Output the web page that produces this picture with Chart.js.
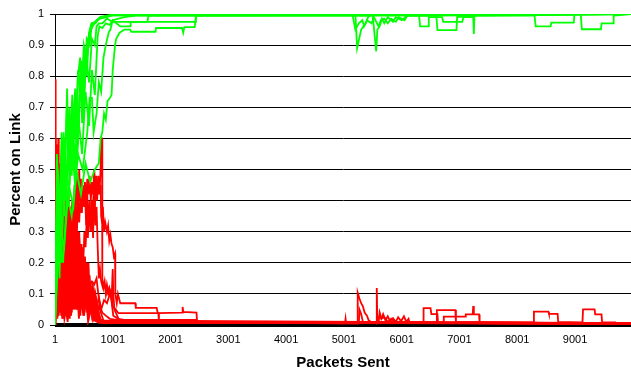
<!DOCTYPE html>
<html>
<head>
<meta charset="utf-8">
<script src="https://cdn.jsdelivr.net/npm/chart.js@4/dist/chart.umd.min.js"></script>
<style>
  html, body { margin: 0; padding: 0; background: #fff; }
  #wrap { width: 631px; height: 370px; }
</style>
</head>
<body>
<div id="wrap"><canvas id="linkChart"></canvas></div>
<script>
/* ── tick labels ── */
const xTicks = [1, 1001, 2001, 3001, 4001, 5001, 6001, 7001, 8001, 9001];
const yTicks = [0, 0.1, 0.2, 0.3, 0.4, 0.5, 0.6, 0.7, 0.8, 0.9, 1];

/* ── runs that end up on the link ([packets sent, percent]) ── */
const green1 = [[1,0],[40,0.35],[80,0.15],[120,0.55],[160,0.35],[210,0.76],[250,0.45],[300,0.7],[350,0.5],[400,0.8],[435,0.86],[470,0.65],[510,0.88],[550,0.8],[590,0.94],[630,0.97],[700,0.975],[780,0.985],[900,0.99],[1000,0.998],[9970,1]];
const green2 = [[1,0.05],[50,0.45],[100,0.3],[150,0.6],[200,0.42],[250,0.68],[300,0.5],[350,0.75],[400,0.58],[450,0.84],[500,0.72],[550,0.92],[600,0.9],[640,0.97],[700,0.97],[760,0.985],[860,0.99],[1000,0.995],[5200,1],[5230,0.89],[5300,0.95],[5380,0.97],[5420,0.99],[5480,1],[9970,1]];
const green3 = [[1,0],[60,0.35],[110,0.2],[170,0.5],[230,0.38],[290,0.58],[350,0.45],[410,0.66],[470,0.55],[530,0.75],[590,0.64],[640,0.82],[690,0.74],[740,0.93],[770,0.96],[820,0.955],[880,0.97],[950,0.965],[1000,0.98],[1130,0.96],[1300,0.96],[1310,0.975],[2430,0.975],[2440,1],[9970,1]];
const green4 = [[1,0.02],[70,0.3],[140,0.2],[210,0.42],[290,0.35],[370,0.5],[450,0.42],[530,0.52],[610,0.46],[690,0.5],[760,0.52],[790,0.6],[820,0.62],[850,0.68],[880,0.66],[910,0.72],[950,0.73],[980,0.74],[1000,0.82],[1020,0.86],[1040,0.9],[1060,0.92],[1090,0.93],[1120,0.94],[1200,0.95],[1300,0.95],[1320,0.943],[1740,0.943],[1750,0.955],[2200,0.955],[2220,0.94],[2240,0.958],[2420,0.958],[2440,0.995],[9970,1]];
const green5 = [[1,0],[45,0.45],[90,0.25],[140,0.58],[190,0.4],[240,0.62],[290,0.48],[340,0.7],[390,0.55],[440,0.78],[490,0.66],[540,0.86],[590,0.78],[640,0.92],[690,0.9],[720,0.96],[760,0.97],[820,0.97],[900,0.985],[1000,0.975],[1600,0.975],[1620,0.995],[5500,0.995],[5560,0.88],[5580,0.95],[5620,0.96],[5660,0.985],[5700,0.97],[5760,0.99],[5850,0.975],[5900,0.99],[6000,0.98],[6100,0.995],[9970,1]];
const green6 = [[1,0.1],[50,0.5],[100,0.32],[150,0.62],[200,0.45],[250,0.7],[300,0.55],[350,0.76],[400,0.62],[450,0.85],[500,0.78],[550,0.9],[600,0.94],[650,0.96],[700,0.975],[780,0.99],[900,0.995],[1100,1],[6300,1],[6320,0.96],[6460,0.96],[6470,0.99],[6700,0.99],[6720,0.975],[7050,0.975],[7070,0.99],[7240,0.99],[7250,0.936],[7260,0.995],[9970,1]];
const green7 = [[1,0],[80,0.32],[160,0.25],[240,0.45],[320,0.38],[400,0.55],[480,0.5],[560,0.62],[600,0.73],[640,0.73],[670,0.62],[720,0.68],[760,0.78],[800,0.75],[840,0.86],[880,0.9],[930,0.94],[960,0.95],[1000,0.98],[1200,0.99],[1400,0.995],[6600,0.995],[6620,0.948],[6950,0.948],[6960,0.99],[7300,0.995],[8300,0.995],[8320,0.96],[8580,0.96],[8590,0.972],[8980,0.972],[8990,1],[9100,1],[9120,0.951],[9450,0.951],[9460,0.97],[9660,0.97],[9670,0.995],[9970,1]];
const green8 = [[1,0.05],[35,0.55],[75,0.35],[115,0.62],[160,0.45],[205,0.7],[250,0.55],[300,0.74],[350,0.6],[400,0.82],[450,0.72],[500,0.9],[550,0.85],[600,0.94],[660,0.965],[720,0.98],[800,0.99],[1000,0.997],[5150,0.997],[5200,0.95],[5260,0.97],[5320,0.98],[5350,0.96],[5400,0.98],[5480,0.97],[5520,0.99],[5600,0.96],[5640,0.98],[5700,0.985],[5760,0.97],[5820,0.985],[5900,0.975],[5950,0.99],[6050,0.98],[6100,0.995],[9970,1]];

/* ── runs that drop off the link ── */
const red1 = [[1,0.79],[6,0.3],[12,0.62],[18,0.2],[24,0.55],[30,0.15],[36,0.48],[42,0.22],[50,0.58],[58,0.12],[66,0.4],[74,0.18],[82,0.52],[90,0.1],[100,0.35],[110,0.14],[120,0.42],[130,0.08],[140,0.3],[152,0.12],[164,0.36],[176,0.06],[188,0.25],[200,0.1],[215,0.28],[230,0.05],[245,0.2],[260,0.08],[280,0.24],[300,0.06],[320,0.22],[340,0.08],[365,0.2],[390,0.05],[420,0.18],[450,0.06],[480,0.14],[510,0.04],[550,0.12],[590,0.03],[630,0.08],[680,0.02],[750,0.01],[9970,0.005]];
const red2 = [[1,0.05],[5,0.5],[10,0.2],[15,0.6],[22,0.28],[29,0.52],[36,0.1],[43,0.44],[50,0.25],[58,0.6],[66,0.3],[74,0.46],[82,0.15],[90,0.38],[100,0.22],[110,0.5],[120,0.18],[130,0.4],[142,0.26],[154,0.45],[166,0.12],[178,0.32],[190,0.2],[205,0.38],[220,0.14],[235,0.3],[250,0.08],[270,0.22],[290,0.1],[310,0.3],[330,0.06],[355,0.26],[380,0.1],[410,0.3],[440,0.08],[470,0.24],[500,0.06],[530,0.2],[560,0.05],[600,0.16],[640,0.04],[680,0.1],[720,0.02],[800,0.01],[9970,0.004]];
const red3 = [[1,0.1],[7,0.35],[14,0.12],[21,0.58],[28,0.2],[35,0.45],[42,0.3],[50,0.55],[60,0.22],[70,0.5],[80,0.18],[90,0.42],[100,0.28],[112,0.48],[124,0.16],[136,0.36],[148,0.24],[160,0.44],[172,0.1],[185,0.3],[198,0.18],[212,0.35],[226,0.12],[240,0.28],[256,0.08],[272,0.22],[290,0.14],[310,0.3],[330,0.1],[350,0.32],[375,0.12],[400,0.3],[430,0.1],[460,0.26],[490,0.08],[520,0.22],[550,0.06],[580,0.2],[610,0.05],[650,0.14],[700,0.03],[760,0.06],[850,0.008],[9970,0.006]];
const red4 = [[1,0],[10,0.3],[20,0.1],[30,0.4],[40,0.15],[52,0.35],[64,0.2],[76,0.45],[88,0.25],[100,0.4],[115,0.18],[130,0.36],[145,0.22],[160,0.4],[175,0.26],[190,0.34],[205,0.2],[220,0.3],[240,0.22],[260,0.38],[280,0.28],[300,0.4],[320,0.3],[340,0.45],[360,0.35],[380,0.48],[400,0.38],[420,0.5],[435,0.4],[450,0.47],[465,0.36],[480,0.45],[500,0.38],[520,0.44],[540,0.32],[560,0.42],[580,0.3],[600,0.4],[620,0.3],[640,0.36],[660,0.28],[680,0.45],[700,0.32],[720,0.38],[740,0.25],[760,0.15],[780,0.18],[800,0.14],[830,0.12],[860,0.13],[900,0.1],[940,0.12],[980,0.08],[1000,0.18],[1010,0.1],[1030,0.05],[1100,0.02],[1400,0.01],[9970,0.005]];
const red5 = [[1,0.2],[10,0.45],[20,0.15],[30,0.38],[40,0.1],[52,0.3],[64,0.12],[76,0.26],[88,0.08],[100,0.22],[115,0.1],[130,0.28],[145,0.12],[160,0.24],[175,0.08],[190,0.2],[210,0.12],[230,0.26],[250,0.15],[270,0.3],[290,0.18],[310,0.25],[330,0.14],[350,0.22],[370,0.12],[390,0.2],[410,0.1],[430,0.18],[450,0.14],[470,0.24],[490,0.2],[510,0.3],[530,0.25],[550,0.34],[570,0.28],[590,0.38],[610,0.32],[630,0.4],[650,0.35],[670,0.43],[690,0.38],[710,0.46],[730,0.4],[750,0.48],[770,0.42],[790,0.5],[800,0.6],[815,0.6],[820,0.15],[840,0.12],[860,0.14],[880,0.1],[900,0.13],[930,0.1],[960,0.11],[990,0.06],[1010,0.03],[1200,0.008],[9970,0.005]];
const red6 = [[1,0.3],[8,0.55],[16,0.25],[24,0.5],[32,0.2],[42,0.45],[52,0.18],[62,0.4],[72,0.22],[84,0.38],[96,0.2],[110,0.32],[124,0.16],[138,0.3],[152,0.2],[168,0.34],[184,0.22],[200,0.3],[220,0.2],[240,0.28],[260,0.22],[280,0.3],[300,0.25],[320,0.34],[340,0.28],[360,0.38],[380,0.3],[400,0.4],[420,0.33],[440,0.42],[460,0.36],[480,0.45],[500,0.38],[520,0.46],[540,0.4],[560,0.47],[580,0.42],[600,0.48],[620,0.4],[640,0.46],[660,0.42],[680,0.5],[700,0.44],[720,0.48],[740,0.42],[760,0.46],[780,0.44],[790,0.45],[800,0.35],[815,0.33],[830,0.38],[850,0.3],[870,0.33],[900,0.3],[920,0.32],[940,0.27],[960,0.29],[980,0.26],[1000,0.25],[1020,0.22],[1040,0.23],[1045,0.1],[1070,0.07],[1090,0.1],[1130,0.07],[1390,0.07],[1400,0.055],[1760,0.055],[1780,0.038],[2200,0.04],[2210,0.058],[2220,0.042],[2450,0.04],[2460,0.008],[9970,0.005]];
const red7 = [[1,0.15],[9,0.4],[18,0.12],[27,0.35],[36,0.2],[46,0.5],[56,0.15],[66,0.32],[78,0.1],[90,0.28],[102,0.16],[114,0.34],[126,0.12],[140,0.26],[154,0.08],[168,0.22],[182,0.14],[196,0.3],[212,0.1],[228,0.2],[244,0.08],[262,0.18],[280,0.12],[300,0.22],[320,0.08],[345,0.16],[370,0.1],[395,0.18],[420,0.06],[450,0.14],[480,0.05],[520,0.12],[560,0.06],[600,0.1],[640,0.04],[680,0.08],[720,0.05],[760,0.09],[800,0.05],[850,0.08],[900,0.07],[950,0.1],[980,0.1],[1000,0.06],[1050,0.05],[1100,0.038],[1790,0.038],[1800,0.008],[9970,0.005]];
const red8 = [[1,0.25],[8,0.1],[16,0.42],[24,0.15],[34,0.36],[44,0.08],[54,0.3],[66,0.12],[78,0.26],[90,0.06],[104,0.22],[118,0.1],[132,0.28],[146,0.08],[160,0.2],[176,0.05],[192,0.16],[210,0.08],[228,0.22],[246,0.1],[266,0.18],[286,0.06],[306,0.15],[330,0.08],[355,0.14],[380,0.1],[405,0.16],[430,0.12],[460,0.2],[490,0.14],[520,0.13],[560,0.15],[600,0.13],[640,0.14],[680,0.13],[720,0.15],[750,0.1],[780,0.06],[820,0.04],[880,0.03],[950,0.02],[1100,0.016],[2450,0.016],[2460,0.01],[3470,0.01],[3480,0.006],[9970,0.005]];
const red9 = [[1,0.02],[8,0.25],[16,0.06],[24,0.32],[32,0.1],[42,0.2],[52,0.04],[62,0.28],[72,0.08],[84,0.18],[96,0.05],[110,0.22],[124,0.06],[138,0.15],[152,0.03],[168,0.12],[184,0.05],[200,0.16],[220,0.04],[240,0.1],[265,0.03],[290,0.18],[320,0.05],[350,0.2],[380,0.06],[410,0.16],[440,0.03],[470,0.14],[500,0.04],[540,0.12],[580,0.03],[620,0.1],[660,0.02],[720,0.05],[800,0.01],[5020,0.005],[5030,0.02],[5040,0.005],[5230,0.005],[5240,0.104],[5270,0.085],[5300,0.07],[5330,0.06],[5360,0.04],[5400,0.03],[5430,0.015],[5480,0.008],[9970,0.004]];
const red10 = [[1,0],[6,0.22],[12,0.05],[18,0.35],[26,0.08],[34,0.28],[42,0.12],[52,0.38],[62,0.06],[72,0.24],[84,0.1],[96,0.3],[108,0.05],[122,0.18],[136,0.08],[150,0.24],[166,0.04],[182,0.14],[198,0.06],[216,0.12],[236,0.03],[256,0.09],[280,0.2],[310,0.06],[340,0.22],[370,0.05],[400,0.18],[430,0.04],[460,0.2],[490,0.06],[520,0.16],[560,0.04],[600,0.12],[640,0.03],[700,0.08],[760,0.01],[5260,0.005],[5270,0.05],[5300,0.035],[5330,0.01],[5560,0.008],[5570,0.119],[5580,0.01],[5620,0.03],[5650,0.02],[5680,0.035],[5720,0.015],[5760,0.028],[5800,0.012],[5850,0.022],[5900,0.01],[5940,0.025],[5990,0.012],[6040,0.028],[6080,0.01],[6120,0.02],[6140,0.006],[9970,0.004]];
const red11 = [[1,0.08],[7,0.3],[14,0.1],[22,0.46],[30,0.14],[38,0.34],[48,0.06],[58,0.26],[68,0.1],[80,0.32],[92,0.12],[104,0.24],[116,0.06],[130,0.2],[144,0.1],[158,0.26],[172,0.05],[188,0.16],[204,0.08],[222,0.2],[240,0.05],[260,0.14],[282,0.04],[306,0.25],[332,0.08],[362,0.22],[392,0.06],[420,0.28],[450,0.1],[480,0.22],[510,0.06],[540,0.18],[575,0.05],[610,0.14],[650,0.04],[700,0.1],[760,0.02],[850,0.01],[5600,0.006],[5620,0.04],[5650,0.02],[5700,0.025],[5760,0.01],[5820,0.02],[5900,0.008],[6375,0.008],[6380,0.054],[6500,0.054],[6515,0.035],[6620,0.035],[6630,0.008],[9970,0.005]];
const red12 = [[1,0.04],[9,0.2],[18,0.06],[28,0.3],[38,0.1],[50,0.24],[62,0.05],[74,0.18],[86,0.08],[100,0.26],[114,0.06],[128,0.16],[142,0.04],[158,0.12],[174,0.05],[192,0.14],[210,0.03],[232,0.08],[256,0.02],[284,0.16],[310,0.05],[340,0.2],[370,0.08],[400,0.24],[430,0.06],[460,0.18],[495,0.05],[530,0.15],[570,0.03],[610,0.12],[660,0.02],[720,0.06],[800,0.01],[6600,0.008],[6610,0.048],[6930,0.048],[6940,0.01],[9970,0.005]];
const red13 = [[1,0.12],[6,0.02],[13,0.2],[20,0.05],[28,0.16],[36,0.03],[46,0.14],[56,0.05],[68,0.22],[80,0.04],[94,0.12],[108,0.03],[124,0.1],[140,0.02],[160,0.08],[180,0.03],[205,0.07],[230,0.02],[260,0.15],[290,0.04],[320,0.18],[350,0.06],[385,0.14],[420,0.03],[455,0.12],[490,0.04],[530,0.16],[570,0.05],[610,0.12],[650,0.03],[700,0.07],[760,0.01],[6720,0.008],[6730,0.027],[7100,0.027],[7110,0.034],[7230,0.034],[7240,0.061],[7250,0.034],[7340,0.034],[7350,0.006],[9970,0.004]];
const red14 = [[1,0.06],[10,0.16],[20,0.04],[30,0.12],[42,0.02],[54,0.1],[66,0.03],[80,0.14],[94,0.04],[110,0.09],[126,0.02],[144,0.07],[164,0.02],[190,0.05],[220,0.01],[250,0.12],[280,0.03],[310,0.15],[345,0.05],[380,0.12],[415,0.02],[450,0.1],[490,0.03],[530,0.12],[570,0.02],[620,0.09],[670,0.02],[730,0.05],[800,0.008],[8280,0.008],[8290,0.043],[8540,0.043],[8550,0.036],[8700,0.036],[8710,0.01],[9130,0.008],[9140,0.05],[9340,0.05],[9350,0.034],[9460,0.034],[9470,0.008],[9700,0.008],[9710,0.004],[9970,0.004]];
const red15 = [[1,0.4],[5,0.15],[11,0.5],[17,0.22],[23,0.42],[31,0.1],[39,0.36],[47,0.16],[56,0.3],[65,0.08],[75,0.28],[85,0.12],[96,0.32],[108,0.1],[120,0.26],[133,0.06],[146,0.2],[160,0.09],[175,0.24],[190,0.06],[206,0.16],[222,0.04],[240,0.12],[260,0.03],[285,0.2],[310,0.06],[340,0.25],[370,0.08],[400,0.2],[435,0.05],[470,0.18],[505,0.04],[540,0.14],[580,0.03],[620,0.1],[670,0.02],[740,0.01],[9970,0.005]];
const red16 = [[1,0.22],[4,0.6],[9,0.3],[14,0.52],[20,0.12],[26,0.4],[33,0.18],[40,0.34],[48,0.06],[57,0.3],[66,0.14],[76,0.38],[86,0.1],[97,0.26],[108,0.16],[120,0.3],[133,0.1],[147,0.22],[162,0.06],[178,0.18],[195,0.1],[213,0.2],[232,0.05],[252,0.12],[274,0.04],[298,0.22],[325,0.08],[355,0.26],[385,0.1],[415,0.22],[445,0.05],[480,0.18],[515,0.06],[550,0.2],[590,0.04],[630,0.12],[680,0.02],[760,0.008],[9970,0.005]];
const red17 = [[1,0.03],[20,0.12],[40,0.04],[60,0.2],[80,0.06],[100,0.18],[130,0.05],[160,0.24],[190,0.08],[220,0.2],[250,0.06],[280,0.26],[310,0.1],[340,0.3],[370,0.12],[400,0.28],[430,0.1],[460,0.24],[490,0.08],[520,0.2],[550,0.06],[580,0.16],[610,0.05],[640,0.12],[680,0.04],[720,0.08],[780,0.02],[850,0.01],[9970,0.005]];
const red18 = [[1,0.18],[12,0.04],[24,0.26],[36,0.08],[50,0.32],[64,0.12],[80,0.22],[96,0.05],[114,0.2],[132,0.08],[152,0.28],[172,0.1],[194,0.22],[216,0.05],[240,0.18],[264,0.08],[290,0.24],[316,0.06],[344,0.18],[372,0.05],[402,0.14],[434,0.04],[468,0.12],[504,0.03],[542,0.1],[582,0.02],[624,0.06],[680,0.015],[760,0.008],[9970,0.005]];
const red19 = [[1,0.35],[15,0.55],[30,0.3],[45,0.5],[60,0.25],[80,0.45],[100,0.28],[120,0.42],[140,0.22],[160,0.4],[185,0.2],[210,0.38],[235,0.18],[260,0.35],[285,0.2],[310,0.4],[335,0.22],[360,0.36],[390,0.16],[420,0.3],[450,0.12],[480,0.25],[520,0.1],[560,0.2],[600,0.06],[650,0.1],[700,0.02],[800,0.008],[9970,0.005]];
const red20 = [[1,0.5],[10,0.25],[20,0.48],[32,0.2],[44,0.44],[56,0.3],[70,0.5],[84,0.26],[98,0.42],[112,0.2],[128,0.38],[144,0.24],[160,0.46],[178,0.2],[196,0.36],[216,0.26],[236,0.42],[258,0.18],[280,0.34],[304,0.2],[328,0.38],[352,0.16],[378,0.3],[404,0.12],[432,0.26],[462,0.1],[494,0.2],[528,0.06],[566,0.14],[610,0.04],[660,0.08],[720,0.015],[9970,0.005]];

/* ── the axis floor ── */
const floorRun = [[1,0],[9970,0]];

const greenRuns = [green1, green2, green3, green4, green5, green6, green7, green8];
const redRuns   = [red1, red2, red3, red4, red5, red6, red7, red8, red9, red10, red11, red12, red13, red14, red15, red16, red17, red18, red19, red20];

const toPoints = run => run.map(([x, y]) => ({ x, y }));

const datasets = [
  ...greenRuns.map(r => ({ data: toPoints(r), borderColor: '#00FF00', borderWidth: 1.8 })),
  ...redRuns.map(r   => ({ data: toPoints(r), borderColor: '#FF0000', borderWidth: 1.8 })),
  { data: toPoints(floorRun), borderColor: '#000', borderWidth: 4, clip: 6 },
];

const tickFont  = { family: 'Liberation Sans, Arial, sans-serif', size: 11 };
const titleFont = { family: 'Liberation Sans, Arial, sans-serif', size: 15, weight: 'bold', lineHeight: 1 };

new Chart(document.getElementById('linkChart'), {
  type: 'line',
  data: { datasets },
  options: {
    responsive         : true,
    maintainAspectRatio: false,
    animation          : false,
    events             : [],
    layout  : { padding: { left: 0, right: 0, top: 14, bottom: 0 } },
    elements: { point: { radius: 0 }, line: { tension: 0 } },
    plugins : { legend: { display: false }, tooltip: { enabled: false } },
    scales: {
      x: {
        type: 'linear',
        min : 1,
        max : 9970,
        afterBuildTicks: s => { s.ticks = xTicks.map(v => ({ value: v })); },
        afterFit: s => { s.height = 45; },
        grid  : { display: false },
        border: { display: true, color: '#000' },
        ticks : { font: tickFont, color: '#000', padding: 0, maxRotation: 0, autoSkip: false, callback: v => String(v) },
        title : { display: true, text: 'Packets Sent', font: titleFont, color: '#000', padding: { top: 0, bottom: 0 } },
      },
      y: {
        min: 0,
        max: 1,
        afterBuildTicks: s => { s.ticks = yTicks.map(v => ({ value: v })); },
        afterFit: s => { s.width = 55; },
        grid  : { color: '#000', lineWidth: 1, tickLength: 5 },
        border: { display: true, color: '#000', width: 1 },
        ticks : { font: tickFont, color: '#000', padding: 6, callback: v => String(+v.toFixed(1)) },
        title : { display: true, text: 'Percent on Link', font: titleFont, color: '#000', padding: { top: 8, bottom: 0 } },
      },
    },
  },
});
</script>
</body>
</html>
